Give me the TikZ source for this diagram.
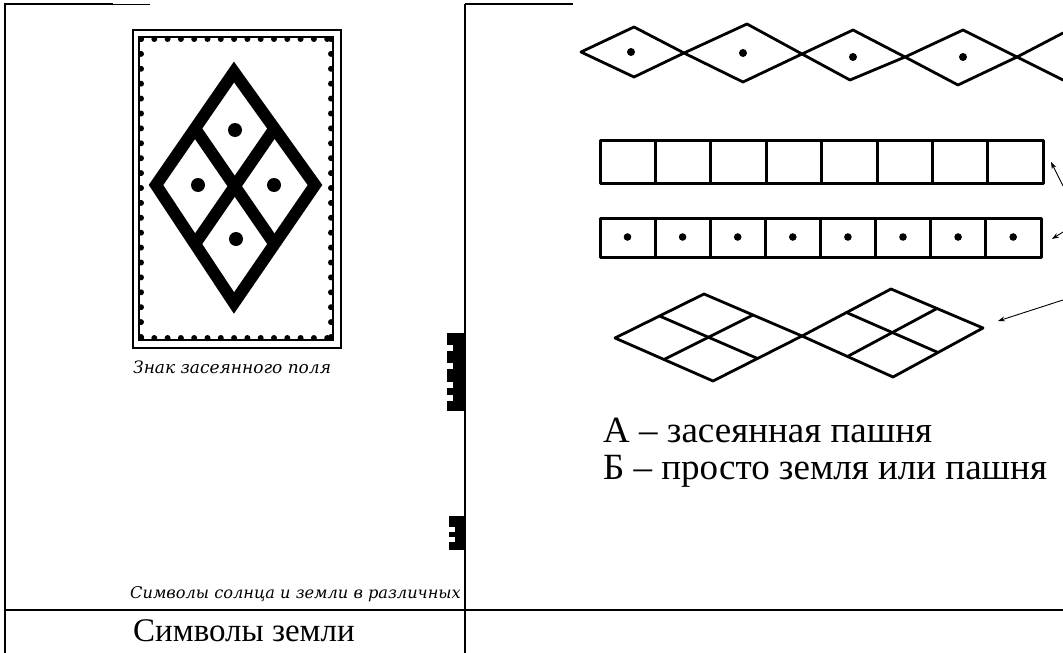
\documentclass[tikz,border=0pt]{standalone}
\usepackage{fontspec}
\setmainfont{Liberation Serif}
\newfontfamily\capfont{DejaVu Serif}
\usetikzlibrary{calc,arrows.meta}
\tikzset{
  grid/.style={line width=1.5pt},
  thickdia/.style={line width=12pt, line join=miter},
  thindia/.style={line width=2.8pt, line join=round, line cap=round},
  cellbox/.style={line width=3pt, line join=round},
  pointer/.style={line width=0.9pt, -{Stealth[length=7pt,width=5pt]}},
  capt/.style={inner sep=0pt, anchor=base west, font=\capfont\itshape\fontsize{17}{19}\selectfont},
  captb/.style={inner sep=0pt, anchor=base west, font=\capfont\itshape\fontsize{16.2}{19}\selectfont},
  bigtext/.style={inner sep=0pt, anchor=base west, font=\fontsize{33}{40}\selectfont},
  legend/.style={inner sep=0pt, anchor=base west, font=\fontsize{37}{42}\selectfont},
}
\begin{document}
\begin{tikzpicture}[x=1pt,y=-1pt]
\useasboundingbox (0,0) rectangle (1063,653);
% table lines
\draw[line width=2.5pt] (4,4) -- (113,4);
\draw[line width=1pt] (113,4) -- (150,4);
\draw[line width=2.5pt] (465,4) -- (573,4);
\draw[grid] (5,4) -- (5,653);
\draw[grid] (465,4) -- (465,653);
\draw[line width=2pt] (4,610) -- (1063,610);

% beaded frame
\draw[line width=1.8pt] (133,30) rectangle (341,348);
\draw[line width=2.4pt] (139,37) rectangle (333,340);
\foreach \i in {0,...,14} {
  \fill ($(141,39)+(\i*13.3,0)$) circle[radius=3pt];
  \fill ($(141,338)+(\i*13.3,0)$) circle[radius=3pt];
}
\foreach \i in {0,...,20} {
  \fill ($(141,39)+(0,\i*14.9)$) circle[radius=3pt];
  \fill ($(331,39)+(0,\i*14.9)$) circle[radius=3pt];
}
% big diamond
\coordinate (dT) at (234,72);
\coordinate (dR) at (315,185);
\coordinate (dB) at (234,303);
\coordinate (dL) at (156,185);
\draw[thickdia] (dT) -- (dR) -- (dB) -- (dL) -- cycle;
\draw[line width=12pt] ($(dT)!0.5!(dL)$) -- ($(dR)!0.5!(dB)$);
\draw[line width=12pt] ($(dT)!0.5!(dR)$) -- ($(dL)!0.5!(dB)$);
\fill (235,130) circle[radius=7pt];
\fill (198,185) circle[radius=7pt];
\fill (274,185) circle[radius=7pt];
\fill (236,239) circle[radius=7pt];

\node[capt] (c1) at (133,373) {Знак засеянного поля};

% black artifacts
\fill (447,333) rectangle (464,411);
\foreach \y in {345,363,382,395} \fill[white] (446,\y) rectangle (453,\y+6);
\fill (449,516) rectangle (464,550);
\foreach \y in {527,537} \fill[white] (448,\y) rectangle (455,\y+5);

\begin{scope}
\clip (5,560) rectangle (464,609);
\node[captb] (c2) at (130,598) {Символы солнца и земли в различных};
\end{scope}
\node[bigtext] (c3) at (133,641) {Символы земли};

% top chain of diamonds
\draw[thindia] (581,52) -- (634,27) -- (684,53) -- (747,24) -- (802,54) -- (853,30) -- (905,57) -- (963,30) -- (1017,57) -- (1063,33);
\draw[thindia] (581,52) -- (634,77) -- (684,53) -- (743,82) -- (802,54) -- (850,80) -- (905,57) -- (958,85) -- (1017,57) -- (1063,80);
\foreach \p in {(631,52),(743,53),(853,57),(963,57)} \fill \p circle[radius=4pt];

% row of empty cells
\draw[cellbox] (600,140) rectangle (1043,183);
\foreach \i in {1,...,7} \draw[cellbox] ($(600,140)+(\i*55.4,0)$) -- ($(600,183)+(\i*55.4,0)$);
% row of dotted cells
\draw[cellbox] (600,218) rectangle (1041,257);
\foreach \i in {1,...,7} \draw[cellbox] ($(600,218)+(\i*55.1,0)$) -- ($(600,257)+(\i*55.1,0)$);
\foreach \i in {0,...,7} \fill ($(627.5,237)+(\i*55.1,0)$) circle[radius=3.8pt];

% lattice diamonds
\coordinate (L1) at (615,338);
\coordinate (T1) at (704,294);
\coordinate (C) at (802,336);
\coordinate (B1) at (713,381);
\coordinate (T2) at (891,289);
\coordinate (R2) at (983,328);
\coordinate (B2) at (893,377);
\draw[thindia] (L1) -- (T1) -- (C) -- (B1) -- cycle;
\draw[thindia] (C) -- (T2) -- (R2) -- (B2) -- cycle;
\draw[thindia] ($(L1)!0.5!(T1)$) -- ($(B1)!0.5!(C)$);
\draw[thindia] ($(T1)!0.5!(C)$) -- ($(L1)!0.5!(B1)$);
\draw[thindia] ($(C)!0.5!(T2)$) -- ($(B2)!0.5!(R2)$);
\draw[thindia] ($(T2)!0.5!(R2)$) -- ($(C)!0.5!(B2)$);

% arrows
\coordinate (a1s) at (1063,186);
\coordinate (a1e) at (1051,162);
\coordinate (a2s) at (1063,232);
\coordinate (a2e) at (1052,239);
\coordinate (a3s) at (1063,300);
\coordinate (a3e) at (998,321);
\draw[pointer] (a1s) -- (a1e);
\draw[pointer] (a2s) -- (a2e);
\draw[pointer] (a3s) -- (a3e);

\node[legend] (ta) at (603,442) {А – засеянная пашня};
\node[legend] (tb) at (603,479) {Б – просто земля или пашня};
\end{tikzpicture}
\end{document}
